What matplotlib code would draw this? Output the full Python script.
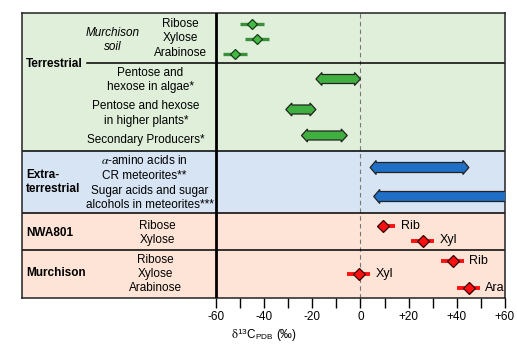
import numpy as np
import matplotlib.pyplot as plt
from matplotlib.patches import Polygon

plt.rcParams['font.family'] = ['Liberation Sans', 'DejaVu Sans']
plt.rcParams['mathtext.fontset'] = 'stix'
FS = 8.5

# Murchison soil (terrestrial), mean and half-range
soil_names = ["Ribose", "Xylose", "Arabinose"]
soil_vals = [-45, -43, -52]
soil_err = [5, 5, 5]

# terrestrial ranges (min, max)
terr_names = ["Pentose and\nhexose in algae*",
              "Pentose and hexose\nin higher plants*",
              "Secondary Producers*"]
terr_lo = [-18.5, -31, -24.5]
terr_hi = [0, -18.5, -5.5]

# extraterrestrial ranges
extra_names = [r"$\alpha$-amino acids in" "\nCR meteorites**",
               "Sugar acids and sugar\nalcohols in meteorites***"]
extra_lo = [4, 5.5]
extra_hi = [45, 70]

# meteorite sugars
nwa_names = ["Ribose", "Xylose"]
nwa_short = ["Rib", "Xyl"]
nwa_vals = [9.5, 26]
nwa_err_lo = [1.5, 5]
nwa_err_hi = [5, 4.5]

mur_names = ["Ribose", "Xylose", "Arabinose"]
mur_short = ["Rib", "Xyl", "Ara"]
mur_vals = [38.5, -0.5, 45]
mur_err_lo = [5, 5, 5]
mur_err_hi = [4.5, 4.5, 4.5]

xticks = [-60, -40, -20, 0, 20, 40, 60]
xticklabels = ["-60", "-40", "-20", "0", "+20", "+40", "+60"]

# vertical layout (y grows downward, pixel-like units)
soil_y = [24, 38.5, 53.5]
terr_y = [79, 109.5, 135.5]
extra_y = [167.5, 196.5]
nwa_y = [226, 240.5]
mur_y = [261, 273.5, 288]
XMIN = -140.55
PXU = 289 / 120.0  # pixels per permil


def col(px):
    return -60 + (px - 216) / PXU


fig = plt.figure(figsize=(5.17, 3.48), dpi=100)
ax = fig.add_axes([22 / 517, 1 - 298 / 348, 483 / 517, 285 / 348])
ax.set_xlim(XMIN, 60)
ax.set_ylim(298, 13)

# section backgrounds
ax.axhspan(13, 151, color="#e0efda", zorder=0)
ax.axhspan(151, 213, color="#d7e4f4", zorder=0)
ax.axhspan(213, 298, color="#fde4d6", zorder=0)

for yy in [151, 213, 250]:
    ax.axhline(yy, color="black", lw=1.1, zorder=2)
ax.plot([col(87), 60], [63, 63], color="black", lw=1.1, zorder=2)
ax.axvline(-60, color="black", lw=2.0, zorder=3)
ax.axvline(0, color="#777777", lw=0.8, ls=(0, (4, 3)), zorder=1)


def arrow(x0, x1, y, fc, body=4.5, head=6.5, hl=6, left=True, right=True):
    h = hl / PXU
    pts = []
    if right:
        pts += [(x1 - h, y - body), (x1 - h, y - head), (x1, y),
                (x1 - h, y + head), (x1 - h, y + body)]
    else:
        pts += [(x1, y - body), (x1, y + body)]
    if left:
        pts += [(x0 + h, y + body), (x0 + h, y + head), (x0, y),
                (x0 + h, y - head), (x0 + h, y - body)]
    else:
        pts += [(x0, y + body), (x0, y - body)]
    ax.add_patch(Polygon(pts, closed=True, fc=fc, ec="#222222", lw=0.9,
                         zorder=4, clip_on=True))


for lo, hi, y in zip(terr_lo, terr_hi, terr_y):
    arrow(lo, hi, y, "#3fb03f", body=4.5, head=6.5)
arrow(extra_lo[0], extra_hi[0], extra_y[0], "#1f6fc6", body=5, head=7)
arrow(extra_lo[1], extra_hi[1], extra_y[1], "#1f6fc6", body=5, head=7, right=False)

ax.errorbar(soil_vals, soil_y, xerr=soil_err, fmt="D", color="#3a8f3a",
            mfc="#45b945", mec="#143d14", ms=5.5, mew=0.9, elinewidth=2.4,
            capsize=0, zorder=5)

for vals, ys, elo, ehi, short in [(nwa_vals, nwa_y, nwa_err_lo, nwa_err_hi, nwa_short),
                                  (mur_vals, mur_y, mur_err_lo, mur_err_hi, mur_short)]:
    ax.errorbar(vals, ys, xerr=[elo, ehi], fmt="D", color="#ff1010",
                mfc="#ff1010", mec="#330000", ms=6, mew=0.9, elinewidth=2.8,
                capsize=0, zorder=5)
    for v, y, e, s in zip(vals, ys, ehi, short):
        ax.text(v + e + 2.2, y, s, fontsize=FS + 0.5, va="center", ha="left", zorder=6)

# left-hand labels
ax.text(col(26), 64, "Terrestrial", fontsize=FS, fontweight="bold", va="center")
ax.text(col(113), 40, "Murchison\nsoil", fontsize=FS, style="italic",
        ha="center", va="center", linespacing=1.25)
for n, y in zip(soil_names, soil_y):
    ax.text(col(180), y, n, fontsize=FS, ha="center", va="center")
for n, y, cx in zip(terr_names, [80, 113.5, 140], [150.5, 146, 146]):
    ax.text(col(cx), y, n, fontsize=FS, ha="center", va="center", linespacing=1.25)
ax.text(col(26), 182, "Extra-\nterrestrial", fontsize=FS, fontweight="bold",
        va="center", linespacing=1.25)
for n, y, cx in zip(extra_names, [168, 198], [144.5, 150]):
    ax.text(col(cx), y, n, fontsize=FS, ha="center", va="center", linespacing=1.25)
ax.text(col(26), 233, "NWA801", fontsize=FS, fontweight="bold", va="center")
for n, y in zip(nwa_names, [226, 240]):
    ax.text(col(157), y, n, fontsize=FS, ha="center", va="center")
ax.text(col(26), 273.5, "Murchison", fontsize=FS, fontweight="bold", va="center")
for n, y in zip(mur_names, [260, 274, 288]):
    ax.text(col(155), y, n, fontsize=FS, ha="center", va="center")

ax.set_xticks(xticks)
ax.set_xticklabels(xticklabels, fontsize=FS)
ax.set_xticks(np.arange(-50, 60, 20), minor=True)
ax.tick_params(axis="x", which="both", length=7, width=1.0, direction="out", pad=2)
ax.set_yticks([])
for s in ax.spines.values():
    s.set_linewidth(1.1)
    s.set_color("#222222")
ax.set_xlabel(r"$\mathrm{\delta}^{\mathregular{13}}$C$_{\mathregular{PDB}}$ (‰)",
              fontsize=FS, labelpad=3)

fig.savefig("out.png", dpi=100)
